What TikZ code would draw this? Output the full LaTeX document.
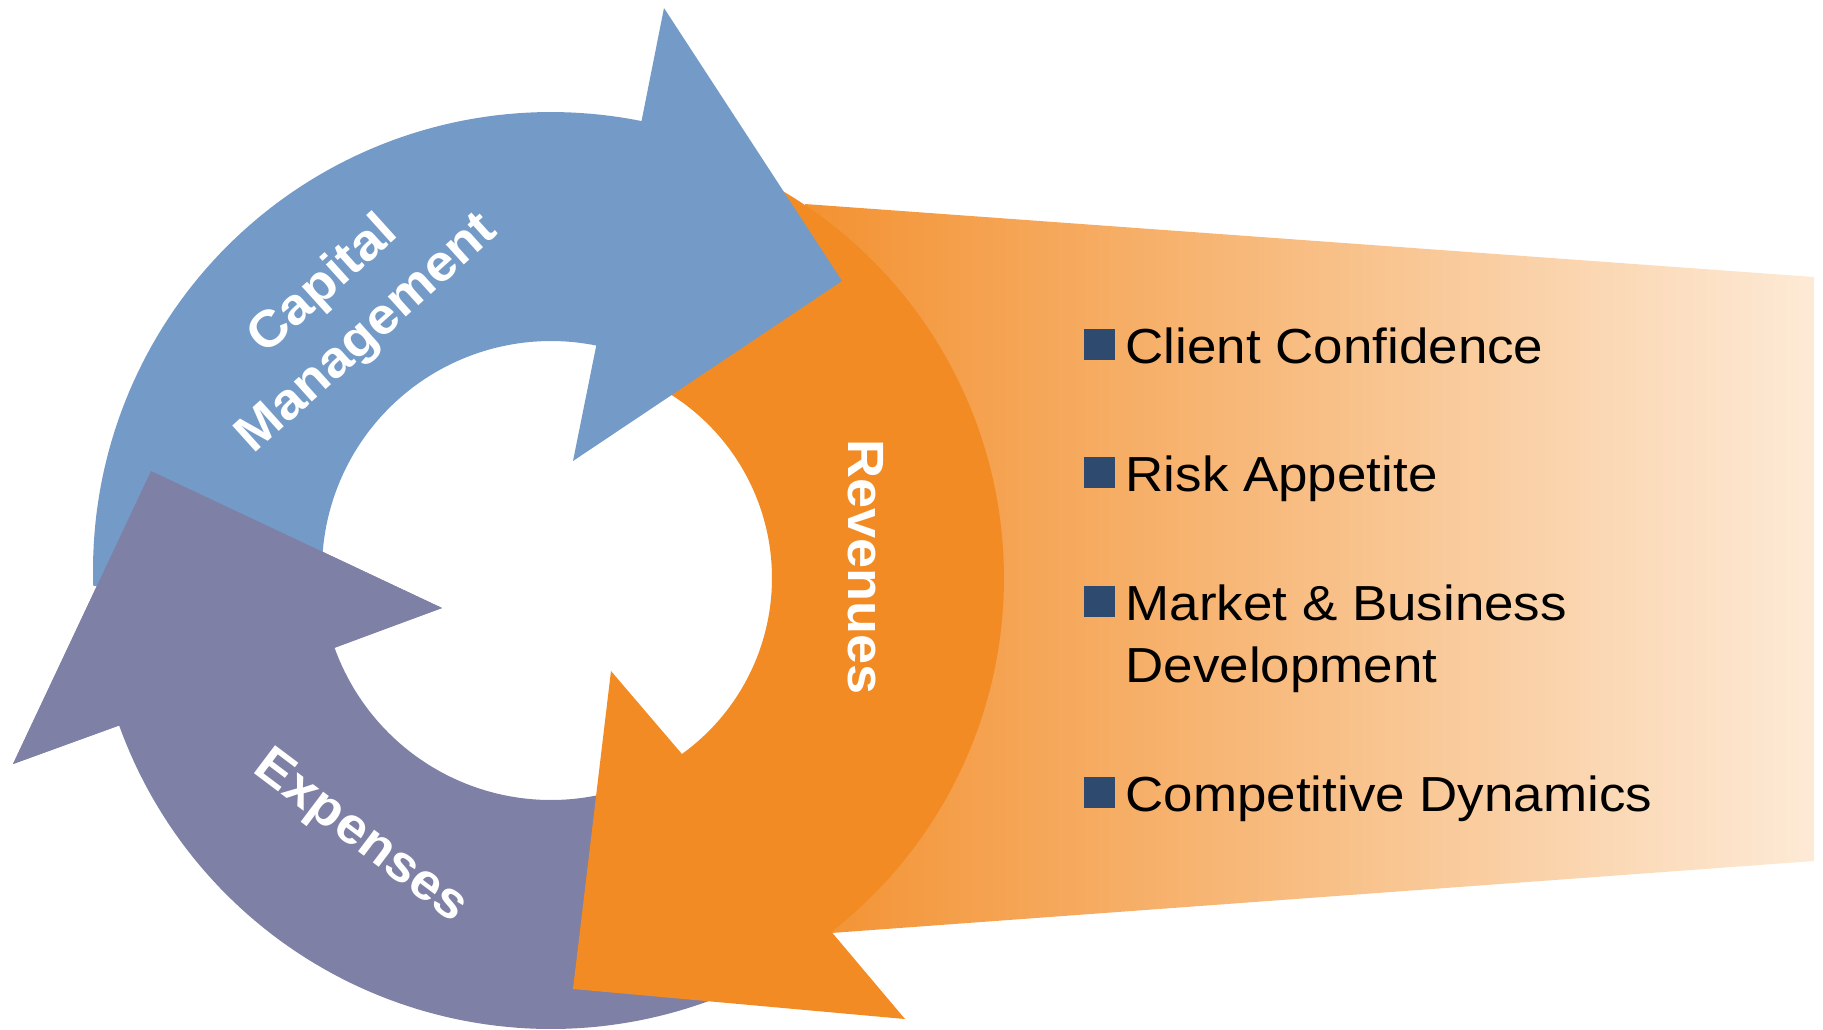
\documentclass[tikz,border=0pt]{standalone}
\usepackage{fontspec}
\newfontfamily\lf[FakeStretch=1.06]{Liberation Sans}
\newfontfamily\lfl[FakeStretch=1.075]{Liberation Sans}
\definecolor{blueC}{RGB}{116,155,199}
\definecolor{purp}{RGB}{126,128,166}
\definecolor{orng}{RGB}{242,139,35}
\definecolor{gradL}{RGB}{243,146,50}
\definecolor{gradR}{RGB}{253,234,214}
\definecolor{navy}{RGB}{46,74,110}
\begin{document}
\begin{tikzpicture}[x=0.01cm,y=-0.01cm,
  lab/.style={text=white,font=\lf\bfseries\fontsize{14.5}{18.6}\selectfont,inner sep=0,align=center},
  item/.style={text=black,font=\lfl\fontsize{14}{17.8}\selectfont,inner sep=0,anchor=base west},
  bullet/.style={fill=navy,minimum size=0.31cm,inner sep=0,draw=none,shape=rectangle}]
\useasboundingbox (0,0) rectangle (1823,1029);
% gradient panel
\shade[left color=gradL,right color=gradR] (805,204) -- (1814,277) -- (1814,861) -- (831,933) -- cycle;
% purple arrow (Expenses)
\fill[purp] plot[domain=60:160.2,samples=80] ({551+459*cos(\x)},{570+459*sin(\x)})
  -- (13,764) -- (151,471) -- (442,608)
  -- plot[domain=160.2:60,samples=80] ({551+230*cos(\x)},{570+230*sin(\x)}) -- cycle;
% orange arrow (Revenues)
\fill[orng] plot[domain=295:412,samples=100] ({555+449*cos(\x)},{578+449*sin(\x)})
  -- (905,1019) -- (573,989) -- (611,671)
  -- plot[domain=414.2:295,samples=100] ({555+217*cos(\x)},{578+217*sin(\x)}) -- cycle;
% blue arrow (Capital Management)
\fill[blueC] plot[domain=178:281.4,samples=80] ({551+458*cos(\x)},{570+458*sin(\x)})
  -- (664,8) -- (842,281) -- (573,461)
  -- plot[domain=281.4:178,samples=80] ({551+229*cos(\x)},{570+229*sin(\x)}) -- cycle;
% purple head on top of blue tail
\fill[purp] (13,764) -- (151,471) -- (442,608) -- cycle;
% labels
\node[lab,rotate=42] (cap) at (346,310) {Capital\\Management};
\node[lab,rotate=-90] (rev) at (866,567) {Revenues};
\node[lab,rotate=-37] (exp) at (360,838) {Expenses};
% list
\node[bullet] (b1) at (1099.5,344.5) {};
\node[bullet] (b2) at (1099.5,472.9) {};
\node[bullet] (b3) at (1099.5,601.2) {};
\node[bullet] (b4) at (1099.5,792.9) {};
\node[item] (t1) at (1125,363.3) {Client Confidence};
\node[item] (t2) at (1125,491.7) {Risk Appetite};
\node[item] (t3) at (1125,620) {Market \& Business};
\node[item] (t3b) at (1125,682.7) {Development};
\node[item] (t4) at (1125,811.7) {Competitive Dynamics};
\end{tikzpicture}
\end{document}
